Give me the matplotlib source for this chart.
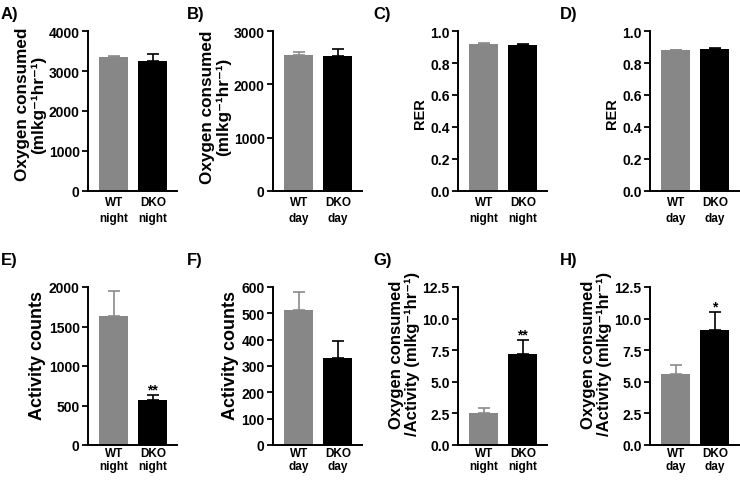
import numpy as np
import matplotlib
matplotlib.use("Agg")
import matplotlib.pyplot as plt
from matplotlib.ticker import FormatStrFormatter

plt.rcParams["font.family"] = ["Liberation Sans", "DejaVu Sans"]
plt.rcParams["font.weight"] = "bold"

# values (mean, upper SEM)
groups_night = ["WT\nnight", "DKO\nnight"]
groups_day = ["WT\nday", "DKO\nday"]

vo2_night = [3350, 3250]
vo2_night_err = [30, 165]
vo2_day = [2555, 2530]
vo2_day_err = [50, 125]
rer_night = [0.921, 0.913]
rer_night_err = [0.003, 0.003]
rer_day = [0.879, 0.887]
rer_day_err = [0.004, 0.006]
act_night = [1636, 568]
act_night_err = [309, 68]
act_day = [512, 332]
act_day_err = [69, 62]
ratio_night = [2.53, 7.19]
ratio_night_err = [0.39, 1.12]
ratio_day = [5.63, 9.11]
ratio_day_err = [0.70, 1.38]

vo2_label = "Oxygen consumed\n(mlkg\u207b\u00b9hr\u207b\u00b9)"
ratio_label = "Oxygen consumed\n/Activity (mlkg\u207b\u00b9hr\u207b\u00b9)"

# letter, groups, values, errors, ylabel, ylabel size, ymax, step, format, stars, label y
panels = [
    ("A)", groups_night, vo2_night, vo2_night_err, vo2_label, 12.3, 4000, 1000, "%d", ["", ""], 0.545),
    ("B)", groups_day, vo2_day, vo2_day_err, vo2_label, 12.3, 3000, 1000, "%d", ["", ""], 0.53),
    ("C)", groups_night, rer_night, rer_night_err, "RER", 10.5, 1.0, 0.2, "%.1f", ["", ""], 0.49),
    ("D)", groups_day, rer_day, rer_day_err, "RER", 10.5, 1.0, 0.2, "%.1f", ["", ""], 0.49),
    ("E)", groups_night, act_night, act_night_err, "Activity counts", 13, 2000, 500, "%d", ["", "**"], 0.57),
    ("F)", groups_day, act_day, act_day_err, "Activity counts", 13, 600, 100, "%d", ["", ""], 0.57),
    ("G)", groups_night, ratio_night, ratio_night_err, ratio_label, 12, 12.5, 2.5, "%.1f", ["", "**"], 0.58),
    ("H)", groups_day, ratio_day, ratio_day_err, ratio_label, 12, 12.5, 2.5, "%.1f", ["", "*"], 0.58),
]

W, H = 740, 485
fig = plt.figure(figsize=(W / 100, H / 100), dpi=100)

lefts = [88, 273, 458, 650]
tops = [32, 288]
bottoms = [192, 446]
letter_x = [1, 187, 373, 560]
letter_y = [14, 260]
xlab_pad = [3.5, 1.5]
xlab_spacing = [1.45, 1.12]

colors = ["#878787", "black"]
err_colors = ["#8a8a8a", "black"]

for i, (letter, groups, vals, errs, ylab, ysize, ymax, step, fmt, stars, ly) in enumerate(panels):
    r, c = divmod(i, 4)
    ax = fig.add_axes([lefts[c] / W, 1 - bottoms[r] / H, 89 / W, (bottoms[r] - tops[r]) / H])
    x = np.arange(len(vals))
    ax.bar(x, vals, width=0.74, color=colors, zorder=2)
    for xi, v, e, ec, s in zip(x, vals, errs, err_colors, stars):
        ax.errorbar(xi, v, yerr=[[0], [e]], fmt="none", ecolor=ec,
                    elinewidth=1.2, capsize=4.5, capthick=1.2, zorder=3)
        if s:
            ax.annotate(s, (xi, v + e), xytext=(0, -1), textcoords="offset points",
                        ha="center", va="bottom", fontsize=10, fontweight="bold")
    ax.set_xlim(-0.66, 1.62)
    ax.set_ylim(0, ymax)
    ax.set_yticks(np.arange(0, ymax + step / 2, step))
    ax.yaxis.set_major_formatter(FormatStrFormatter(fmt))
    ax.set_xticks(x)
    ax.set_xticklabels(groups, fontsize=8.5, fontweight="bold",
                       linespacing=xlab_spacing[r])
    ax.tick_params(axis="x", length=0, pad=xlab_pad[r])
    ax.tick_params(axis="y", length=4, width=1.3, pad=2, labelsize=10)
    for lab in ax.get_yticklabels():
        lab.set_fontweight("bold")
    ax.spines["top"].set_visible(False)
    ax.spines["right"].set_visible(False)
    ax.spines["left"].set_linewidth(1.4)
    ax.spines["bottom"].set_linewidth(1.4)
    ax.set_ylabel(ylab, fontsize=ysize, fontweight="bold", linespacing=1.05, labelpad=2)
    ax.yaxis.label.set_y(ly)
    fig.text(letter_x[c] / W, 1 - letter_y[r] / H, letter, fontsize=12,
             fontweight="bold", ha="left", va="center")

fig.savefig("out.png", dpi=100)
